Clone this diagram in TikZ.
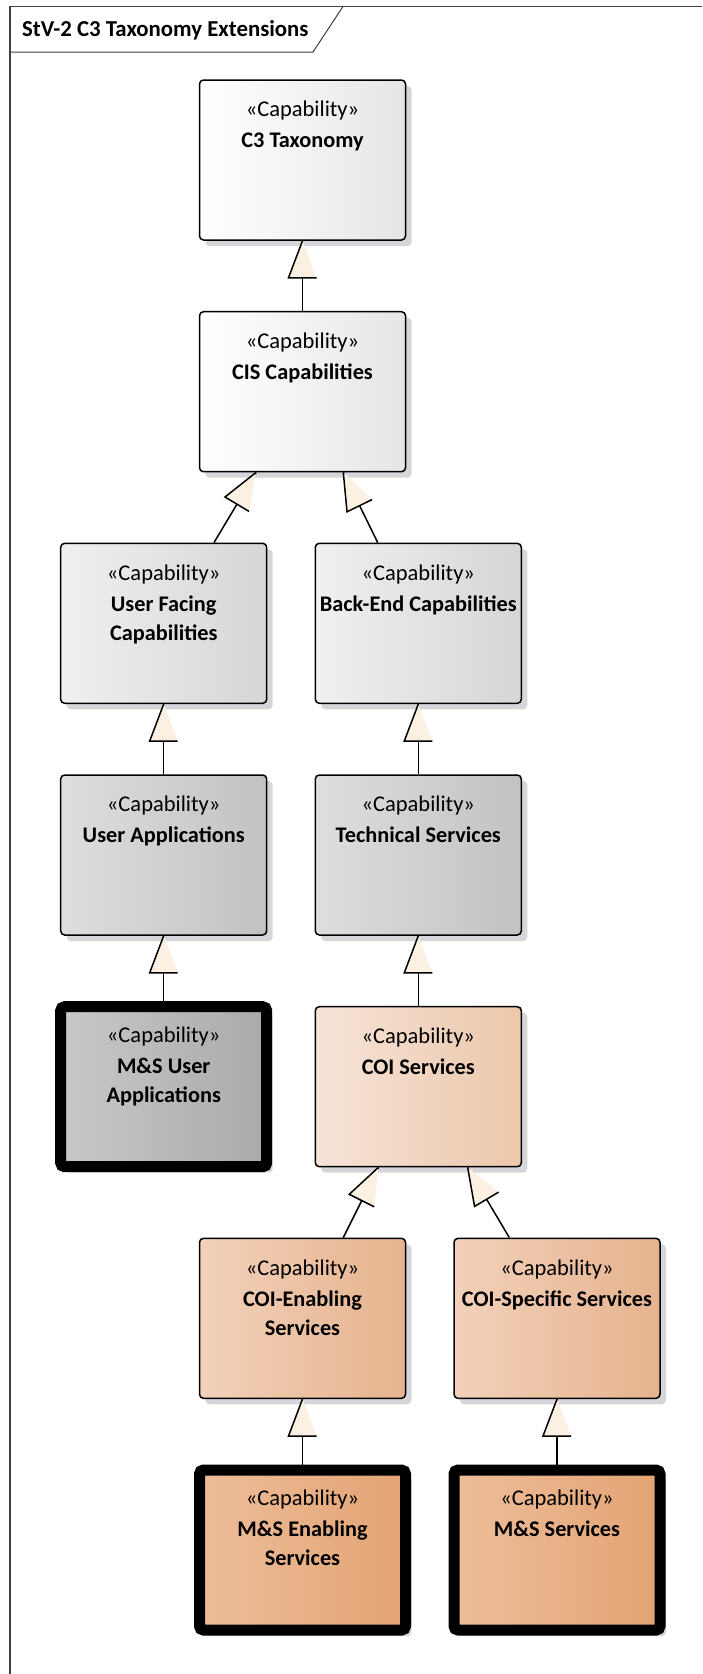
\documentclass[tikz,border=0pt]{standalone}
\usepackage{fontspec}
\setmainfont{Carlito}
\usetikzlibrary{calc,shadows}
\definecolor{framec}{HTML}{404040}
\definecolor{shadowc}{HTML}{D6D6DA}
\definecolor{arrfillc}{HTML}{FBF0E1}
\definecolor{wL}{HTML}{FFFFFF}\definecolor{wR}{HTML}{E6E6E6}
\definecolor{gaL}{HTML}{F0F0F0}\definecolor{gaR}{HTML}{D6D6D6}
\definecolor{gbL}{HTML}{DEDEDE}\definecolor{gbR}{HTML}{C2C2C2}
\definecolor{gcL}{HTML}{C8C8C8}\definecolor{gcR}{HTML}{AAAAAA}
\definecolor{oaL}{HTML}{F6E4D8}\definecolor{oaR}{HTML}{ECC7AB}
\definecolor{obL}{HTML}{F2D1BA}\definecolor{obR}{HTML}{E6B38E}
\definecolor{ocL}{HTML}{EDBD9A}\definecolor{ocR}{HTML}{E3A473}
\newcommand\capnode[8]{% style, id, x, y, name, stereo offset, fill prefix, name (last line) offset
  \node[#1, left color=#7L, right color=#7R] (#2) at (#3,#4) {};
  \node[stereo] (#2-st) at ($(#2.north)+(0,#6)$) {«Capability»};
  \node[cname] (#2-nm) at ($(#2.north)+(0,#8)$) {#5};
}
\newcommand\genarrow[2]{% child point, parent point
  \draw[conn] (#1) -- (#2);
  \fill[arrfillc] (#2) -- ($(#2)!37pt!(#1)!14pt!90:(#2)$) -- ($(#2)!37pt!(#1)!14pt!-90:(#2)$) -- cycle;
  \draw[conn] (#2) -- ($(#2)!37pt!(#1)!14pt!90:(#2)$) -- ($(#2)!37pt!(#1)!14pt!-90:(#2)$);
}
\begin{document}
\begin{tikzpicture}[x=1pt,y=-1pt,
  capbox/.style={draw=black, line width=1.5pt, rounded corners=4pt,
    minimum width=206pt, minimum height=160pt, inner sep=0pt,
    drop shadow={shadow xshift=6pt, shadow yshift=-6pt, fill=shadowc, opacity=1}},
  msbox/.style={capbox, line width=11pt},
  stereo/.style={anchor=base, inner sep=0pt, font=\fontsize{22.5}{26}\selectfont},
  cname/.style={anchor=base, align=center, inner sep=0pt, font=\bfseries\fontsize{22.3}{29}\selectfont},
  conn/.style={line width=1.5pt, line join=miter}]
\useasboundingbox (0,0) rectangle (702,1674);
\fill[white] (0,0) rectangle (702,1674);
% frame
\draw[framec, line width=1.3pt] (10,1674) -- (10,6.5) -- (702,6.5);
\draw[framec, line width=1pt] (10,52) -- (313,52) -- (343,6.5);
\node[anchor=base west, inner sep=0pt, font=\bfseries\fontsize{22.8}{26}\selectfont] (title) at (22,36) {StV-2 C3 Taxonomy Extensions};
% boxes
\capnode{capbox}{c3}{302.5}{160}{C3 Taxonomy}{37.5}{w}{68.5}
\capnode{capbox}{cis}{302.5}{391.7}{CIS Capabilities}{37.5}{w}{68.5}
\capnode{capbox}{uf}{163.7}{623.3}{User Facing\\Capabilities}{37.5}{ga}{97.5}
\capnode{capbox}{be}{418.3}{623.3}{Back-End Capabilities}{37.5}{ga}{68.5}
\capnode{capbox}{ua}{163.7}{855}{User Applications}{37.5}{gb}{68.5}
\capnode{capbox}{ts}{418.3}{855}{Technical Services}{37.5}{gb}{68.5}
\capnode{msbox}{msua}{163.7}{1086.7}{M\&S User\\Applications}{41}{gc}{101}
\capnode{capbox}{coi}{418.3}{1086.7}{COI Services}{37.5}{oa}{68.5}
\capnode{capbox}{coie}{302.5}{1318.3}{COI-Enabling\\Services}{37.5}{ob}{97.5}
\capnode{capbox}{cois}{557}{1318.3}{COI-Specific Services}{37.5}{ob}{68.5}
\capnode{msbox}{mse}{302.5}{1550}{M\&S Enabling\\Services}{41}{oc}{101}
\capnode{msbox}{mss}{557}{1550}{M\&S Services}{41}{oc}{72}
% connector end points
\coordinate (cis-bl) at ($(cis.south)+(-46.5,0)$);
\coordinate (cis-br) at ($(cis.south)+(40.8,0)$);
\coordinate (uf-t) at ($(uf.north)+(50.3,0)$);
\coordinate (be-t) at ($(be.north)+(-40.6,0)$);
\coordinate (coi-bl) at ($(coi.south)+(-40,0)$);
\coordinate (coi-br) at ($(coi.south)+(49.4,0)$);
\coordinate (coie-t) at ($(coie.north)+(40.8,0)$);
\coordinate (cois-t) at ($(cois.north)+(-47.7,0)$);
% generalizations
\genarrow{cis.north}{c3.south}
\genarrow{uf-t}{cis-bl}
\genarrow{be-t}{cis-br}
\genarrow{ua.north}{uf.south}
\genarrow{ts.north}{be.south}
\genarrow{msua.north}{ua.south}
\genarrow{coi.north}{ts.south}
\genarrow{coie-t}{coi-bl}
\genarrow{cois-t}{coi-br}
\genarrow{mse.north}{coie.south}
\genarrow{mss.north}{cois.south}
\end{tikzpicture}
\end{document}
